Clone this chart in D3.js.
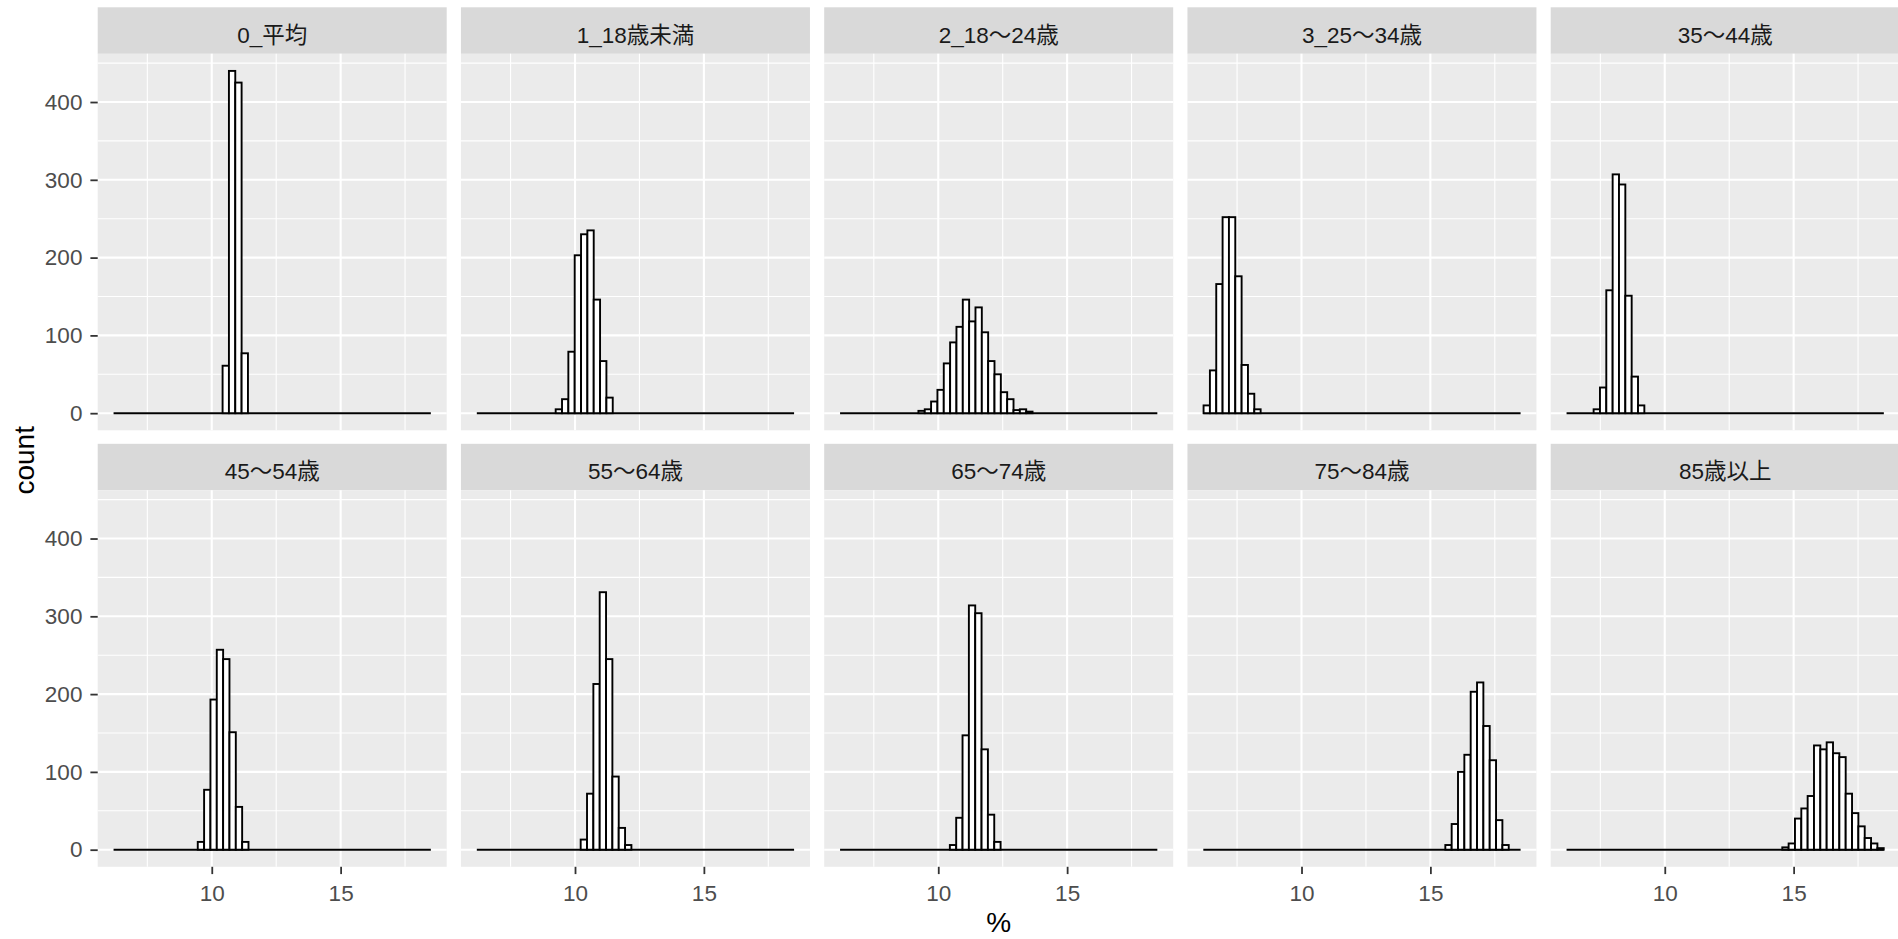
<!DOCTYPE html>
<html>
<head>
<meta charset="utf-8">
<script src="https://cdn.jsdelivr.net/npm/d3@7"></script>
<style>
  html, body { margin: 0; padding: 0; background: #ffffff; }
  svg { display: block; }
</style>
</head>
<body>
<script>
// ---------------- data ----------------
const facets = ["0_平均", "1_18歳未満", "2_18～24歳", "3_25～34歳", "35～44歳",
                "45～54歳", "55～64歳", "65～74歳", "75～84歳", "85歳以上"];
// left edge (%) of the first non-empty bin of each facet
const binStarts = [10.42, 9.25, 9.23, 6.20, 7.24, 9.457, 10.22, 10.45, 15.58, 14.56];
const binWidth = 0.246;
const xDataExtent = [6.19, 18.50];

const countsAvg   = [61, 440, 425, 77];
const countsU18   = [5, 18, 79, 203, 230, 235, 146, 67, 20];
const counts18_24 = [3, 5, 15, 30, 64, 91, 111, 146, 118, 136, 104, 67, 50, 27, 18, 4, 5, 2];
const counts25_34 = [10, 55, 166, 252, 252, 176, 62, 25, 5];
const counts35_44 = [5, 33, 158, 307, 294, 151, 47, 10];
const counts45_54 = [10, 77, 193, 257, 245, 151, 55, 10];
const counts55_64 = [13, 72, 213, 331, 245, 94, 28, 6];
const counts65_74 = [6, 41, 147, 314, 304, 129, 45, 10];
const counts75_84 = [6, 33, 100, 122, 203, 215, 159, 115, 38, 6];
const counts85    = [3, 8, 40, 53, 69, 134, 129, 138, 124, 119, 72, 47, 30, 15, 8, 2];
const countsList = [countsAvg, countsU18, counts18_24, counts25_34, counts35_44,
                    counts45_54, counts55_64, counts65_74, counts75_84, counts85];

const xTicks = [10, 15];
const xMinorTicks = [7.5, 12.5, 17.5];
const yTicks = [0, 100, 200, 300, 400];
const yMinorTicks = [50, 150, 250, 350, 450];

// ---------------- layout ----------------
const W = 1898, H = 939;
const panelLeft0 = 97.7, colStep = 363.25, panelW = 349;
const stripTops = [7.3, 443.8], stripH = 46.5, panelH = 376.5;
const nCols = 5;
const fontLatin = "'Liberation Sans', Arial, 'Noto Sans CJK JP', sans-serif";

const svg = d3.select("body").append("svg")
  .attr("width", W).attr("height", H)
  .attr("viewBox", `0 0 ${W} ${H}`);

const xPad = (xDataExtent[1] - xDataExtent[0]) * 0.05;
const x = d3.scaleLinear()
  .domain([xDataExtent[0] - xPad, xDataExtent[1] + xPad])
  .range([0, panelW]);

const yMax = d3.max(countsList, c => d3.max(c));
const y = d3.scaleLinear()
  .domain([-yMax * 0.05, yMax * 1.05])
  .range([panelH, 0]);

facets.forEach((name, i) => {
  const col = i % nCols, row = Math.floor(i / nCols);
  const g = svg.append("g")
    .attr("transform", `translate(${panelLeft0 + col * colStep},${stripTops[row]})`);

  // strip
  g.append("rect").attr("x", 0).attr("y", 0)
    .attr("width", panelW).attr("height", stripH).attr("fill", "#D9D9D9");
  g.append("text")
    .attr("x", panelW / 2).attr("y", 35.5)
    .attr("text-anchor", "middle")
    .attr("fill", "#1A1A1A")
    .style("font-family", fontLatin)
    .style("font-size", "22.5px")
    .text(name);

  const pg = g.append("g").attr("transform", `translate(0,${stripH})`);
  pg.append("rect").attr("width", panelW).attr("height", panelH).attr("fill", "#EBEBEB");

  const [d0, d1] = y.domain();
  // minor grid
  pg.selectAll("line.ymin").data(yMinorTicks.filter(v => v > d0 && v < d1)).join("line")
    .attr("x1", 0).attr("x2", panelW)
    .attr("y1", d => y(d)).attr("y2", d => y(d))
    .attr("stroke", "#ffffff").attr("stroke-width", 1.1);
  pg.selectAll("line.xmin").data(xMinorTicks).join("line")
    .attr("y1", 0).attr("y2", panelH)
    .attr("x1", d => x(d)).attr("x2", d => x(d))
    .attr("stroke", "#ffffff").attr("stroke-width", 1.1);
  // major grid
  pg.selectAll("line.ymaj").data(yTicks).join("line")
    .attr("x1", 0).attr("x2", panelW)
    .attr("y1", d => y(d)).attr("y2", d => y(d))
    .attr("stroke", "#ffffff").attr("stroke-width", 2.1);
  pg.selectAll("line.xmaj").data(xTicks).join("line")
    .attr("y1", 0).attr("y2", panelH)
    .attr("x1", d => x(d)).attr("x2", d => x(d))
    .attr("stroke", "#ffffff").attr("stroke-width", 2.1);

  // zero-count bins along the whole range
  pg.append("line")
    .attr("x1", x(xDataExtent[0])).attr("x2", x(xDataExtent[1]))
    .attr("y1", y(0)).attr("y2", y(0))
    .attr("stroke", "#000000").attr("stroke-width", 1.9);

  // bars
  const bins = countsList[i].map((c, j) => ({
    x0: binStarts[i] + j * binWidth,
    x1: binStarts[i] + (j + 1) * binWidth,
    c: c
  }));
  pg.selectAll("rect.bar").data(bins).join("rect")
    .attr("class", "bar")
    .attr("x", d => x(d.x0))
    .attr("width", d => x(d.x1) - x(d.x0))
    .attr("y", d => y(d.c))
    .attr("height", d => y(0) - y(d.c))
    .attr("fill", "#ffffff")
    .attr("stroke", "#000000")
    .attr("stroke-width", 1.9);

  // axes
  if (col === 0) {
    const ay = pg.append("g").call(
      d3.axisLeft(y).tickValues(yTicks).tickSize(7.3).tickPadding(8).tickFormat(d3.format("d")));
    styleAxis(ay);
  }
  if (row === 1) {
    const ax = pg.append("g").attr("transform", `translate(0,${panelH})`).call(
      d3.axisBottom(x).tickValues(xTicks).tickSize(7.3).tickPadding(10.5).tickFormat(d3.format("d")));
    styleAxis(ax);
  }
});

function styleAxis(a) {
  a.select(".domain").remove();
  a.attr("font-family", null).attr("font-size", null);
  a.selectAll(".tick line").attr("stroke", "#333333").attr("stroke-width", 1.8);
  a.selectAll(".tick text")
    .attr("fill", "#4D4D4D")
    .style("font-family", fontLatin)
    .style("font-size", "22.5px");
}

// axis titles
const panelsRight = panelLeft0 + (nCols - 1) * colStep + panelW;
svg.append("text")
  .attr("transform", `translate(33.5,${(stripTops[0] + stripH + stripTops[1] + stripH + panelH) / 2}) rotate(-90)`)
  .attr("text-anchor", "middle")
  .attr("fill", "#000000")
  .style("font-family", fontLatin)
  .style("font-size", "28px")
  .text("count");
svg.append("text")
  .attr("x", (panelLeft0 + panelsRight) / 2).attr("y", 932)
  .attr("text-anchor", "middle")
  .attr("fill", "#000000")
  .style("font-family", fontLatin)
  .style("font-size", "28px")
  .text("%");
</script>
</body>
</html>
